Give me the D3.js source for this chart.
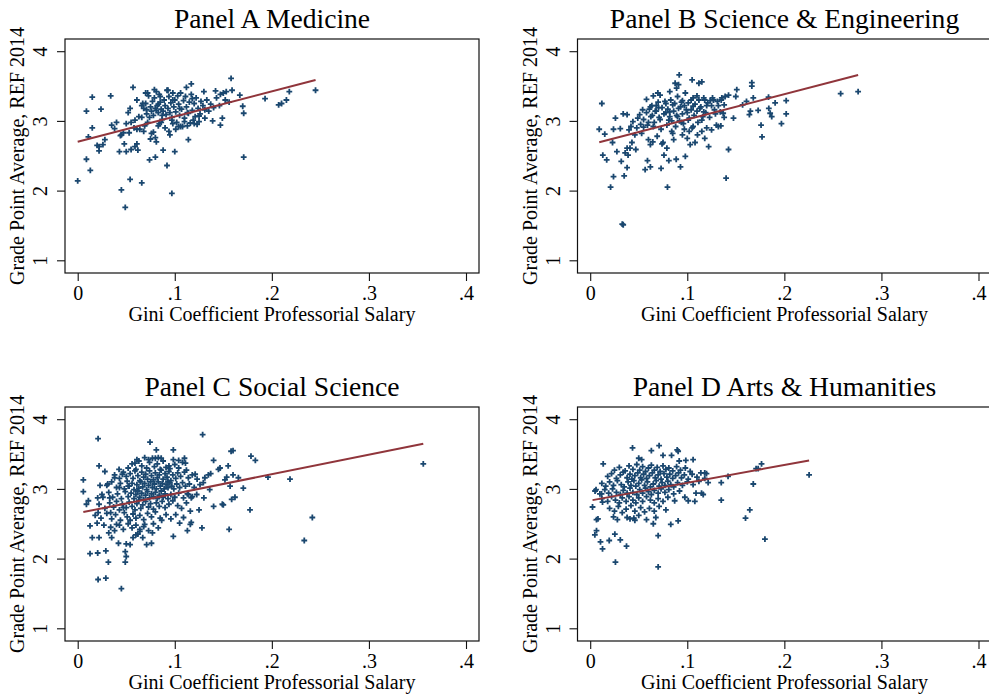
<!DOCTYPE html>
<html><head><meta charset="utf-8">
<script src="https://cdn.jsdelivr.net/npm/d3@7"></script>
<style>body{margin:0;background:#fff}svg{display:block}text{font-family:"Liberation Serif","Times New Roman",serif;fill:#000}</style>
</head><body><svg id="c" width="989" height="698"></svg>
<script>
// ---------- DATA ----------
const panelTitles = ["Panel A Medicine","Panel B Science & Engineering","Panel C Social Science","Panel D Arts & Humanities"];
const xTickValues = [0,0.1,0.2,0.3,0.4];
const xTickLabels = ["0",".1",".2",".3",".4"];
const yTickValues = [1,2,3,4];
const yTickLabels = ["1","2","3","4"];
const xAxisTitle = "Gini Coefficient Professorial Salary";
const yAxisTitle = "Grade Point Average, REF 2014";
// fitted line [intercept, slope]
const fitA = [2.70, 3.62];
const fitB = [2.66, 3.62];
const fitC = [2.651, 2.80];
const fitD = [2.833, 2.55];

const pointsA = [[0.000,2.14],[0.009,2.45],[0.013,2.29],[0.009,3.14],[0.015,3.34],[0.011,2.77],[0.015,2.90],[0.024,3.17],[0.020,2.65],[0.022,2.57],[0.022,2.63],[0.026,2.66],[0.028,2.73],[0.034,3.36],[0.035,2.94],[0.038,2.89],[0.043,2.56],[0.045,2.01],[0.049,1.76],[0.045,2.80],[0.050,2.56],[0.050,2.96],[0.048,2.67],[0.054,2.16],[0.053,2.83],[0.052,3.12],[0.054,3.18],[0.057,3.48],[0.055,2.59],[0.059,2.63],[0.059,3.01],[0.061,2.67],[0.062,2.58],[0.061,3.30],[0.061,2.88],[0.066,2.11],[0.066,3.05],[0.068,2.85],[0.067,3.25],[0.070,3.40],[0.071,3.16],[0.074,2.44],[0.076,2.82],[0.079,3.45],[0.080,2.48],[0.081,2.70],[0.081,3.15],[0.083,3.24],[0.088,2.58],[0.084,2.96],[0.085,3.35],[0.087,3.08],[0.092,2.36],[0.093,3.44],[0.095,2.80],[0.097,1.96],[0.097,3.01],[0.100,2.56],[0.098,3.30],[0.104,2.92],[0.105,3.18],[0.114,2.73],[0.112,3.48],[0.117,3.53],[0.118,3.32],[0.114,3.11],[0.119,3.01],[0.123,2.95],[0.125,3.07],[0.130,3.42],[0.131,3.16],[0.139,3.00],[0.142,3.43],[0.147,3.38],[0.147,2.94],[0.149,3.04],[0.152,3.30],[0.158,3.61],[0.159,3.44],[0.167,3.37],[0.170,3.21],[0.171,3.11],[0.171,2.48],[0.193,3.32],[0.207,3.23],[0.210,3.25],[0.215,3.30],[0.218,3.42],[0.245,3.44],
[0.066,3.22],[0.068,3.18],[0.070,3.25],[0.071,3.10],[0.072,3.40],[0.073,3.36],[0.074,3.05],[0.075,3.20],[0.076,3.14],[0.077,3.28],[0.078,3.08],[0.079,3.33],[0.080,3.18],[0.081,3.42],[0.082,3.22],[0.083,3.12],[0.084,3.38],[0.085,3.27],[0.086,3.17],[0.087,3.02],[0.088,3.14],[0.089,3.30],[0.090,3.22],[0.091,3.09],[0.092,3.44],[0.093,3.18],[0.094,3.35],[0.095,3.12],[0.096,3.26],[0.097,3.05],[0.098,3.40],[0.099,3.20],[0.100,3.30],[0.101,3.13],[0.102,2.98],[0.103,3.36],[0.104,3.24],[0.105,3.08],[0.106,3.40],[0.107,3.17],[0.108,2.92],[0.109,3.29],[0.110,3.04],[0.111,3.35],[0.112,3.20],[0.113,3.12],[0.115,3.27],[0.116,2.97],[0.117,3.38],[0.118,3.15],[0.120,3.25],[0.121,3.06],[0.122,3.33],[0.124,3.18],[0.126,3.10],[0.127,3.28],[0.129,3.22],[0.131,3.04],[0.133,3.30],[0.135,3.14],[0.137,3.24],[0.140,3.19],[0.143,3.33],[0.146,3.22],[0.150,3.40],[0.153,3.42],[0.156,3.27],
[0.040,2.98],[0.044,2.79],[0.047,2.83],[0.055,2.98],[0.058,2.90],[0.063,3.06],[0.064,2.88],[0.069,2.93],[0.072,2.98],[0.075,2.74],[0.078,2.84],[0.080,2.76],[0.083,2.93],[0.086,2.98],[0.090,2.90],[0.094,2.85],[0.098,2.96],[0.101,2.88],[0.106,2.92],[0.110,2.99],[0.113,2.93],[0.120,2.96],[0.125,2.99]];

const pointsB = [[0.0093,2.88],[0.012,3.25],[0.015,2.81],[0.013,2.51],[0.017,2.44],[0.021,2.05],[0.024,2.20],[0.023,2.69],[0.024,2.88],[0.026,3.04],[0.031,2.89],[0.0275,2.56],[0.032,2.42],[0.035,2.21],[0.033,1.52],[0.034,1.51],[0.034,3.10],[0.038,3.09],[0.036,2.54],[0.038,2.33],[0.040,2.87],[0.038,2.61],[0.041,2.61],[0.043,2.69],[0.039,2.51],[0.042,2.92],[0.044,2.99],[0.046,2.80],[0.047,2.59],[0.049,3.04],[0.051,3.09],[0.054,3.16],[0.053,2.82],[0.055,2.91],[0.058,3.31],[0.0566,2.30],[0.059,2.43],[0.062,2.34],[0.059,2.94],[0.060,2.73],[0.061,3.17],[0.0625,3.06],[0.0635,3.22],[0.065,3.36],[0.062,2.66],[0.0645,2.70],[0.067,3.14],[0.068,3.22],[0.069,2.78],[0.0697,3.40],[0.0704,3.19],[0.071,3.05],[0.072,3.37],[0.073,2.32],[0.074,2.67],[0.075,2.69],[0.076,2.51],[0.077,3.28],[0.078,3.12],[0.079,2.61],[0.0796,2.05],[0.081,2.43],[0.081,3.01],[0.082,3.42],[0.082,3.13],[0.084,2.85],[0.085,3.23],[0.086,2.73],[0.0875,3.54],[0.0886,2.45],[0.089,3.47],[0.091,3.52],[0.090,3.06],[0.0917,3.66],[0.093,2.34],[0.093,3.20],[0.094,2.98],[0.095,3.29],[0.097,2.88],[0.098,2.49],[0.099,3.16],[0.100,2.75],[0.101,3.01],[0.102,2.85],[0.103,2.66],[0.104,3.30],[0.105,3.59],[0.106,3.21],[0.106,2.92],[0.108,2.69],[0.110,3.36],[0.1105,2.80],[0.112,3.54],[0.113,3.18],[0.115,3.56],[0.115,3.01],[0.117,3.33],[0.117,3.13],[0.118,2.75],[0.120,3.22],[0.122,2.63],[0.1236,3.29],[0.125,2.87],[0.126,3.33],[0.128,3.16],[0.130,2.94],[0.131,3.28],[0.132,2.92],[0.134,3.13],[0.1346,2.93],[0.1356,3.33],[0.137,3.11],[0.138,3.23],[0.139,3.35],[0.140,2.18],[0.1425,2.59],[0.1425,3.37],[0.1476,3.04],[0.150,3.35],[0.151,3.45],[0.157,3.23],[0.161,3.28],[0.164,3.09],[0.165,3.14],[0.1665,3.55],[0.1665,3.50],[0.168,3.33],[0.173,3.15],[0.176,2.94],[0.177,2.77],[0.184,3.18],[0.1837,3.34],[0.1854,3.11],[0.187,3.06],[0.1905,3.26],[0.197,2.96],[0.2019,3.29],[0.2019,3.10],[0.258,3.39],[0.276,3.42],
[0.055,3.02],[0.058,3.12],[0.062,3.20],[0.064,3.08],[0.066,2.98],[0.068,3.14],[0.070,3.27],[0.072,3.02],[0.074,3.19],[0.076,3.10],[0.078,3.25],[0.079,2.94],[0.080,3.17],[0.082,3.06],[0.083,3.30],[0.084,3.00],[0.086,3.14],[0.087,3.25],[0.088,2.92],[0.089,3.08],[0.090,3.35],[0.091,3.18],[0.092,3.00],[0.094,3.27],[0.095,3.10],[0.096,2.96],[0.097,3.22],[0.098,3.40],[0.100,3.12],[0.101,3.26],[0.102,3.04],[0.104,3.16],[0.105,2.90],[0.106,3.33],[0.107,3.08],[0.108,3.24],[0.110,3.14],[0.111,2.98],[0.112,3.30],[0.114,3.20],[0.116,3.06],[0.118,3.30],[0.119,3.12],[0.121,3.26],[0.123,3.05],[0.125,3.22],[0.127,3.30],[0.129,3.10],[0.132,3.22],[0.135,3.30],[0.138,3.05],[0.120,2.90],[0.115,2.85],[0.095,2.80],[0.085,2.82],[0.073,2.88],[0.065,2.92],[0.060,2.98],[0.052,2.95],[0.048,2.90]];

const pointsC = [[0.0058,3.13],[0.0058,2.96],[0.009,2.78],[0.011,2.83],[0.0127,2.47],[0.0127,2.07],[0.015,2.30],[0.0206,2.08],[0.021,1.70],[0.021,3.72],[0.022,3.33],[0.022,2.30],[0.020,2.51],[0.0206,2.87],[0.023,3.05],[0.021,2.66],[0.028,3.25],[0.029,1.72],[0.029,2.11],[0.027,2.48],[0.026,2.88],[0.031,3.07],[0.0316,1.95],[0.032,2.37],[0.033,2.87],[0.034,2.66],[0.035,2.30],[0.038,3.16],[0.040,2.49],[0.0426,3.28],[0.043,3.02],[0.042,2.22],[0.045,1.57],[0.046,3.21],[0.047,2.73],[0.049,2.10],[0.049,1.95],[0.050,2.03],[0.050,2.21],[0.052,3.04],[0.054,2.20],[0.057,2.30],[0.059,3.37],[0.061,3.42],[0.060,2.34],[0.062,2.35],[0.064,2.39],[0.067,2.30],[0.069,2.49],[0.071,2.20],[0.073,3.42],[0.0745,3.67],[0.076,2.22],[0.077,2.37],[0.080,3.44],[0.081,3.56],[0.083,3.45],[0.086,3.44],[0.0865,2.55],[0.093,3.11],[0.094,3.33],[0.0985,3.56],[0.0985,3.42],[0.0985,2.32],[0.101,2.63],[0.104,3.41],[0.105,2.51],[0.109,2.59],[0.110,3.44],[0.111,3.37],[0.113,2.40],[0.114,2.92],[0.116,2.49],[0.116,2.68],[0.117,2.87],[0.117,2.52],[0.121,3.21],[0.1226,2.92],[0.125,2.70],[0.128,2.44],[0.1287,3.78],[0.1294,3.09],[0.130,2.87],[0.131,3.16],[0.1346,3.20],[0.136,2.99],[0.137,3.22],[0.140,2.75],[0.140,3.41],[0.145,3.28],[0.1466,3.30],[0.149,2.78],[0.150,2.77],[0.1517,3.13],[0.1535,3.17],[0.155,3.33],[0.156,2.42],[0.157,3.04],[0.158,3.54],[0.1586,2.85],[0.160,3.55],[0.160,3.20],[0.162,2.88],[0.1655,3.16],[0.1706,3.01],[0.1775,2.70],[0.1785,3.47],[0.183,3.41],[0.196,3.17],[0.2187,3.14],[0.2334,2.26],[0.2417,2.59],[0.356,3.36],
[0.052,3.30],[0.056,3.36],[0.060,3.28],[0.063,3.40],[0.066,3.33],[0.069,3.45],[0.071,3.30],[0.074,3.38],[0.077,3.44],[0.079,3.32],[0.082,3.36],[0.085,3.28],[0.088,3.40],[0.091,3.31],[0.095,3.29],[0.100,3.35],[0.104,3.30],[0.108,3.38],[0.112,3.27],
[0.038,3.20],[0.043,3.15],[0.047,3.24],[0.050,3.18],[0.054,3.22],[0.057,3.15],[0.059,3.26],[0.062,3.19],[0.064,3.12],[0.066,3.24],[0.068,3.17],[0.070,3.21],[0.072,3.14],[0.074,3.26],[0.076,3.19],[0.078,3.13],[0.080,3.23],[0.082,3.16],[0.084,3.20],[0.086,3.27],[0.088,3.14],[0.090,3.22],[0.092,3.17],[0.094,3.25],[0.096,3.12],[0.098,3.20],[0.101,3.15],[0.103,3.23],[0.106,3.18],[0.110,3.24],[0.114,3.16],[0.118,3.20],[0.123,3.14],
[0.030,3.05],[0.035,3.10],[0.040,3.02],[0.044,3.08],[0.048,3.00],[0.051,3.11],[0.053,3.04],[0.056,3.08],[0.058,2.99],[0.061,3.06],[0.063,3.01],[0.065,3.10],[0.067,3.03],[0.069,3.08],[0.071,2.99],[0.073,3.05],[0.075,3.10],[0.077,3.02],[0.079,3.07],[0.081,3.00],[0.083,3.10],[0.085,3.04],[0.087,3.08],[0.089,3.00],[0.091,3.06],[0.093,3.02],[0.095,3.09],[0.097,3.04],[0.099,3.00],[0.102,3.07],[0.105,3.02],[0.108,3.09],[0.111,3.04],[0.115,3.07],[0.120,3.02],[0.126,3.06],
[0.025,2.92],[0.032,2.95],[0.036,2.88],[0.041,2.93],[0.045,2.86],[0.049,2.96],[0.052,2.89],[0.055,2.94],[0.058,2.86],[0.060,2.92],[0.062,2.97],[0.064,2.88],[0.066,2.94],[0.068,2.85],[0.070,2.91],[0.072,2.96],[0.074,2.87],[0.076,2.93],[0.078,2.89],[0.080,2.95],[0.082,2.86],[0.084,2.91],[0.086,2.97],[0.088,2.88],[0.090,2.93],[0.093,2.86],[0.096,2.92],[0.100,2.88],[0.104,2.94],[0.109,2.87],[0.113,2.93],[0.118,2.89],
[0.022,2.78],[0.028,2.72],[0.033,2.80],[0.037,2.74],[0.040,2.82],[0.043,2.70],[0.046,2.78],[0.050,2.73],[0.053,2.81],[0.056,2.75],[0.059,2.70],[0.061,2.79],[0.063,2.84],[0.065,2.72],[0.067,2.77],[0.070,2.82],[0.073,2.74],[0.075,2.79],[0.078,2.71],[0.081,2.80],[0.084,2.75],[0.087,2.82],[0.090,2.73],[0.094,2.78],[0.098,2.83],[0.103,2.76],[0.107,2.72],[0.112,2.80],
[0.018,2.62],[0.024,2.58],[0.030,2.65],[0.035,2.57],[0.039,2.63],[0.044,2.55],[0.048,2.66],[0.051,2.60],[0.054,2.55],[0.057,2.64],[0.060,2.58],[0.064,2.62],[0.068,2.56],[0.072,2.65],[0.076,2.60],[0.080,2.67],[0.085,2.58],[0.091,2.63],[0.096,2.57],
[0.034,2.45],[0.038,2.40],[0.043,2.48],[0.047,2.42],[0.052,2.50],[0.056,2.44],[0.060,2.48],[0.064,2.42],[0.068,2.46],[0.073,2.40],[0.078,2.50],[0.083,2.44]];

const pointsD = [[0.0024,2.74],[0.006,2.99],[0.0065,2.56],[0.008,2.57],[0.0048,2.34],[0.0065,2.40],[0.0106,2.24],[0.0127,2.14],[0.0134,3.36],[0.0117,2.93],[0.0127,2.81],[0.0196,2.26],[0.0254,2.35],[0.026,1.95],[0.031,2.27],[0.0374,2.18],[0.038,2.59],[0.041,2.57],[0.046,2.55],[0.0436,3.59],[0.050,3.44],[0.053,3.42],[0.063,3.55],[0.065,2.50],[0.0676,2.59],[0.071,3.62],[0.070,2.33],[0.070,1.88],[0.075,3.48],[0.0838,3.48],[0.083,2.49],[0.0896,3.56],[0.0906,3.54],[0.0906,2.54],[0.0917,3.40],[0.0985,3.41],[0.106,3.42],[0.0975,2.88],[0.101,2.83],[0.1078,2.82],[0.109,2.94],[0.1147,2.94],[0.1164,2.92],[0.118,3.23],[0.1198,3.22],[0.1215,3.09],[0.135,3.09],[0.135,2.84],[0.142,3.18],[0.160,2.58],[0.1644,2.70],[0.168,3.07],[0.1709,3.29],[0.173,3.29],[0.1765,3.36],[0.180,2.28],[0.2255,3.20],
[0.025,3.27],[0.030,3.31],[0.036,3.26],[0.040,3.33],[0.044,3.28],[0.048,3.35],[0.051,3.27],[0.054,3.32],[0.057,3.25],[0.060,3.30],[0.063,3.34],[0.066,3.27],[0.069,3.31],[0.072,3.25],[0.075,3.33],[0.078,3.28],[0.081,3.30],[0.085,3.26],[0.089,3.32],[0.093,3.27],[0.098,3.30],[0.103,3.25],
[0.018,3.18],[0.022,3.22],[0.027,3.15],[0.031,3.20],[0.034,3.24],[0.038,3.16],[0.041,3.21],[0.043,3.14],[0.046,3.19],[0.049,3.23],[0.052,3.16],[0.055,3.21],[0.058,3.15],[0.061,3.19],[0.064,3.23],[0.067,3.16],[0.070,3.20],[0.073,3.14],[0.076,3.22],[0.079,3.17],[0.082,3.21],[0.085,3.15],[0.088,3.19],[0.091,3.23],[0.094,3.16],[0.097,3.20],[0.101,3.14],[0.105,3.21],[0.110,3.17],[0.114,3.23],[0.118,3.15],
[0.012,3.08],[0.016,3.04],[0.020,3.10],[0.024,3.05],[0.028,3.12],[0.032,3.06],[0.035,3.03],[0.039,3.10],[0.042,3.05],[0.045,3.12],[0.047,3.04],[0.050,3.08],[0.053,3.13],[0.056,3.05],[0.059,3.10],[0.062,3.03],[0.065,3.07],[0.068,3.12],[0.071,3.04],[0.074,3.09],[0.077,3.05],[0.080,3.11],[0.083,3.06],[0.086,3.03],[0.090,3.09],[0.095,3.05],[0.100,3.10],[0.106,3.06],[0.112,3.11],
[0.005,2.97],[0.010,2.93],[0.015,2.99],[0.019,2.94],[0.023,3.00],[0.027,2.95],[0.031,2.92],[0.034,2.98],[0.038,2.94],[0.041,3.01],[0.044,2.95],[0.048,2.92],[0.051,2.99],[0.054,2.94],[0.057,3.01],[0.060,2.96],[0.063,2.92],[0.066,2.98],[0.070,2.94],[0.073,3.00],[0.077,2.95],[0.081,2.99],[0.086,2.93],[0.092,2.97],
[0.012,2.86],[0.018,2.82],[0.022,2.89],[0.026,2.84],[0.030,2.80],[0.033,2.87],[0.037,2.82],[0.040,2.89],[0.044,2.84],[0.047,2.80],[0.050,2.87],[0.054,2.82],[0.058,2.89],[0.062,2.84],[0.066,2.80],[0.070,2.86],[0.075,2.82],[0.080,2.88],[0.087,2.83],
[0.020,2.72],[0.025,2.68],[0.029,2.75],[0.033,2.66],[0.037,2.71],[0.042,2.76],[0.046,2.68],[0.052,2.73],[0.056,2.67],[0.061,2.72],[0.066,2.68],[0.071,2.75],[0.078,2.70],
[0.024,2.60],[0.028,2.56],[0.045,2.58],[0.050,2.62],[0.058,2.56]];

const panelPoints = [pointsA, pointsB, pointsC, pointsD];
const panelFits = [fitA, fitB, fitC, fitD];

// ---------- LAYOUT ----------
const offsets = [[0,0],[512.5,0],[0,368],[512.5,368]];
const frame = {l:65, r:479, t:39, b:273};
const navy = "#1a476f", maroon = "#90353b";

const svg = d3.select("#c");
const x = d3.scaleLinear().domain([0,0.4]).range([77.7,466]);
const y = d3.scaleLinear().domain([1,4]).range([260.3,51.2]);

panelTitles.forEach((title,i)=>{
  const g = svg.append("g").attr("transform",`translate(${offsets[i][0]},${offsets[i][1]})`);
  g.append("rect").attr("x",frame.l).attr("y",frame.t).attr("width",frame.r-frame.l).attr("height",frame.b-frame.t)
    .attr("fill","none").attr("stroke","#111").attr("stroke-width",1.2);
  const xa = g.append("g").attr("transform",`translate(0,${frame.b})`)
    .call(d3.axisBottom(x).tickValues(xTickValues).tickFormat((d,j)=>xTickLabels[j]).tickSize(8).tickPadding(5));
  xa.select(".domain").remove();
  xa.selectAll("line").attr("stroke","#111").attr("stroke-width",1.1);
  xa.selectAll("text").attr("font-size",20).attr("font-family","Liberation Serif").attr("fill","#000");
  const ya = g.append("g").attr("transform",`translate(${frame.l},0)`)
    .call(d3.axisLeft(y).tickValues(yTickValues).tickFormat((d,j)=>yTickLabels[j]).tickSize(8));
  ya.select(".domain").remove();
  ya.selectAll("line").attr("stroke","#111").attr("stroke-width",1.1);
  ya.selectAll("text").attr("font-size",20).attr("font-family","Liberation Serif").attr("fill","#000")
    .attr("x",null).attr("dy",null).attr("text-anchor","middle")
    .attr("transform","translate(-18,0) rotate(-90)");
  g.append("text").attr("x",(frame.l+frame.r)/2).attr("y",27.5).attr("text-anchor","middle").attr("font-size",27.6).text(title);
  g.append("text").attr("x",(frame.l+frame.r)/2).attr("y",320.5).attr("text-anchor","middle").attr("font-size",20).text(xAxisTitle);
  g.append("text").attr("transform",`translate(24,${(frame.t+frame.b)/2}) rotate(-90)`).attr("text-anchor","middle").attr("font-size",20).text(yAxisTitle);
  const pts = panelPoints[i];
  g.append("g").selectAll("path").data(pts).join("path")
    .attr("d",d=>{const px=x(d[0]),py=y(d[1]),h=2.9;return `M${px-h},${py}H${px+h}M${px},${py-h}V${py+h}`;})
    .attr("stroke",navy).attr("stroke-width",1.8).attr("fill","none");
  const [b0,b1] = panelFits[i];
  const ext = d3.extent(pts,d=>d[0]);
  g.append("line").attr("x1",x(ext[0])).attr("y1",y(b0+b1*ext[0])).attr("x2",x(ext[1])).attr("y2",y(b0+b1*ext[1]))
    .attr("stroke",maroon).attr("stroke-width",2);
});
</script></body></html>
